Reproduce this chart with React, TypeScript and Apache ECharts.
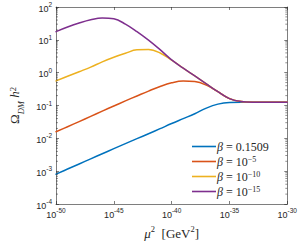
import React, { useEffect, useRef } from 'react';
import * as echarts from 'echarts';

// x: exponent of mu^2 [GeV^2]
const muExp = [-50, -49, -48, -47, -46, -45, -44, -43, -42, -41, -40, -39, -38, -37, -36, -35, -34, -33, -32, -31, -30];

const omegaBeta0p1509 = [8.13e-4, 1.16e-3, 1.66e-3, 2.37e-3, 3.39e-3, 4.84e-3, 6.92e-3, 9.77e-3, 0.0138, 0.0197, 0.0282, 0.0398, 0.0562, 0.0832, 0.110, 0.124, 0.126, 0.126, 0.126, 0.126, 0.126];
const omegaBeta1e5 = [0.0158, 0.0226, 0.0324, 0.0468, 0.0676, 0.0966, 0.138, 0.195, 0.275, 0.380, 0.490, 0.556, 0.537, 0.417, 0.263, 0.162, 0.132, 0.126, 0.126, 0.126, 0.126];
const omegaBeta1e10 = [0.562, 0.776, 1.07, 1.48, 2.14, 2.95, 3.89, 4.95, 5.05, 3.98, 2.40, 1.38, 0.794, 0.457, 0.263, 0.162, 0.132, 0.126, 0.126, 0.126, 0.126];
const omegaBeta1e15 = [17.8, 24.5, 32.4, 40.7, 46.2, 43.7, 30.2, 17.8, 9.77, 5.01, 2.45, 1.38, 0.794, 0.457, 0.263, 0.162, 0.132, 0.126, 0.126, 0.126, 0.126];

const betaBase = ['0.1509', '10', '10', '10'];
const betaExp = ['', '−5', '−10', '−15'];
const seriesColors = ['#0072BD', '#D95319', '#EDB120', '#7E2F8E'];
const seriesValues = [omegaBeta0p1509, omegaBeta1e5, omegaBeta1e10, omegaBeta1e15];

const xTickMin = -50;
const xTickMax = -30;
const xTickStep = 5;
const yMin = 1e-4;
const yMax = 1e2;

const AXIS = '#262626';
const serif = '"Liberation Serif", "DejaVu Serif", serif';
const sans = '"Liberation Sans", Arial, Helvetica, sans-serif';

const seriesNames = betaBase.map((b, i) => (betaExp[i] ? `β = ${b}^${betaExp[i]}` : `β = ${b}`));

export default function App() {
  const ref = useRef<HTMLDivElement>(null);
  useEffect(() => {
    if (!ref.current) return;
    const chart = echarts.init(ref.current, undefined, { renderer: 'svg' });

    const minorVals: number[] = [];
    for (let e = -4; e < 2; e++) for (let m = 2; m <= 9; m++) minorVals.push(m * Math.pow(10, e));

    const tickRich = {
      b: { fontFamily: sans, fontSize: 9, color: AXIS, lineHeight: 12, verticalAlign: 'bottom' },
      s: { fontFamily: sans, fontSize: 6.5, color: AXIS, lineHeight: 7, verticalAlign: 'top' },
    };

    const lineSeries = seriesNames.map((name, i) => ({
      type: 'line',
      name,
      data: muExp.map((x, j) => [x, seriesValues[i][j]]),
      showSymbol: false,
      symbol: 'none',
      smooth: 0.4,
      lineStyle: { color: seriesColors[i], width: 1.5, join: 'round', cap: 'round' },
      itemStyle: { color: seriesColors[i] },
      z: 3 + i,
    }));

    const option: any = {
      animation: false,
      grid: { left: 42.5, right: 10.5, top: 7, bottom: 34 },
      xAxis: [
        {
          type: 'value', min: xTickMin, max: xTickMax, interval: xTickStep, position: 'bottom',
          axisLine: { show: true, onZero: false, lineStyle: { color: AXIS, width: 0.6 } },
          axisTick: { show: true, inside: true, length: 3, lineStyle: { color: AXIS, width: 0.6 } },
          splitLine: { show: false },
          axisLabel: { margin: 3, formatter: (v: number) => `{b|10}{s|${v}}`, rich: tickRich },
          name: '{m|μ}{s|2}{t|  [GeV}{s|2}{t|]}',
          nameLocation: 'middle',
          nameGap: 20,
          nameTextStyle: {
            rich: {
              m: { fontFamily: serif, fontStyle: 'italic', fontSize: 13, color: AXIS, lineHeight: 16, verticalAlign: 'bottom' },
              t: { fontFamily: serif, fontSize: 13, color: AXIS, lineHeight: 16, verticalAlign: 'bottom' },
              s: { fontFamily: serif, fontSize: 8.5, color: AXIS, lineHeight: 10, verticalAlign: 'top' },
            },
          },
        },
        {
          type: 'value', min: xTickMin, max: xTickMax, interval: xTickStep, position: 'top',
          axisLine: { show: true, onZero: false, lineStyle: { color: AXIS, width: 0.6 } },
          axisTick: { show: true, inside: true, length: 3, lineStyle: { color: AXIS, width: 0.6 } },
          splitLine: { show: false },
          axisLabel: { show: false },
        },
      ],
      yAxis: [
        {
          type: 'log', logBase: 10, min: yMin, max: yMax, splitNumber: 6, position: 'left',
          axisLine: { show: true, onZero: false, lineStyle: { color: AXIS, width: 0.6 } },
          axisTick: { show: true, inside: true, length: 3, lineStyle: { color: AXIS, width: 0.6 } },
          splitLine: { show: false },
          axisLabel: {
            margin: 4,
            formatter: (v: number) => `{b|10}{s|${Math.round(Math.log10(v))}}`,
            rich: tickRich,
          },
          name: '{o|Ω}{d|DM}{h| h}{s|2}',
          nameLocation: 'middle',
          nameGap: 31,
          nameRotate: 90,
          nameTextStyle: {
            rich: {
              o: { fontFamily: serif, fontSize: 13, color: AXIS, lineHeight: 17, verticalAlign: 'top' },
              h: { fontFamily: serif, fontStyle: 'italic', fontSize: 13, color: AXIS, lineHeight: 17, verticalAlign: 'top' },
              d: { fontFamily: serif, fontStyle: 'italic', fontSize: 8.5, color: AXIS, lineHeight: 10, verticalAlign: 'bottom' },
              s: { fontFamily: serif, fontSize: 8.5, color: AXIS, lineHeight: 10, verticalAlign: 'top' },
            },
          },
        },
        {
          type: 'log', logBase: 10, min: yMin, max: yMax, splitNumber: 6, position: 'right',
          axisLine: { show: true, onZero: false, lineStyle: { color: AXIS, width: 0.6 } },
          axisTick: { show: true, inside: true, length: 3, lineStyle: { color: AXIS, width: 0.6 } },
          splitLine: { show: false },
          axisLabel: { show: false },
        },
      ],
      legend: {
        data: seriesNames,
        orient: 'vertical',
        left: 192,
        top: 141,
        icon: 'rect',
        itemWidth: 24,
        itemHeight: 1.6,
        itemGap: 2,
        padding: 0,
        formatter: (name: string) => {
          const parts = name.split('^');
          const m = parts[0].match(/^β = (.*)$/);
          const base = m ? m[1] : parts[0];
          return `{i|β}{n| = ${base}}` + (parts[1] ? `{s|${parts[1]}}` : '');
        },
        textStyle: {
          padding: [0, 0, 0, -4],
          rich: {
            i: { fontFamily: serif, fontStyle: 'italic', fontSize: 12, color: AXIS, lineHeight: 13, verticalAlign: 'bottom' },
            n: { fontFamily: serif, fontSize: 12, color: AXIS, lineHeight: 13, verticalAlign: 'bottom' },
            s: { fontFamily: serif, fontSize: 8, color: AXIS, lineHeight: 8, verticalAlign: 'top' },
          },
        },
      },
      series: [
        ...lineSeries,
        {
          type: 'custom',
          silent: true,
          clip: false,
          z: 10,
          data: minorVals.map((v) => [xTickMin, v]),
          renderItem: (_p: any, api: any) => {
            const v = api.value(1);
            const l = api.coord([xTickMin, v]);
            const r = api.coord([xTickMax, v]);
            return {
              type: 'group',
              children: [
                { type: 'line', shape: { x1: l[0], y1: l[1], x2: l[0] + 2, y2: l[1] }, style: { stroke: AXIS, lineWidth: 0.5 } },
                { type: 'line', shape: { x1: r[0] - 2, y1: r[1], x2: r[0], y2: r[1] }, style: { stroke: AXIS, lineWidth: 0.5 } },
              ],
            };
          },
        },
      ],
    };
    chart.setOption(option);
    return () => chart.dispose();
  }, []);
  return <div ref={ref} style={{ position: 'fixed', left: 0, top: 0, width: 300, height: 245, background: '#fff' }} />;
}
